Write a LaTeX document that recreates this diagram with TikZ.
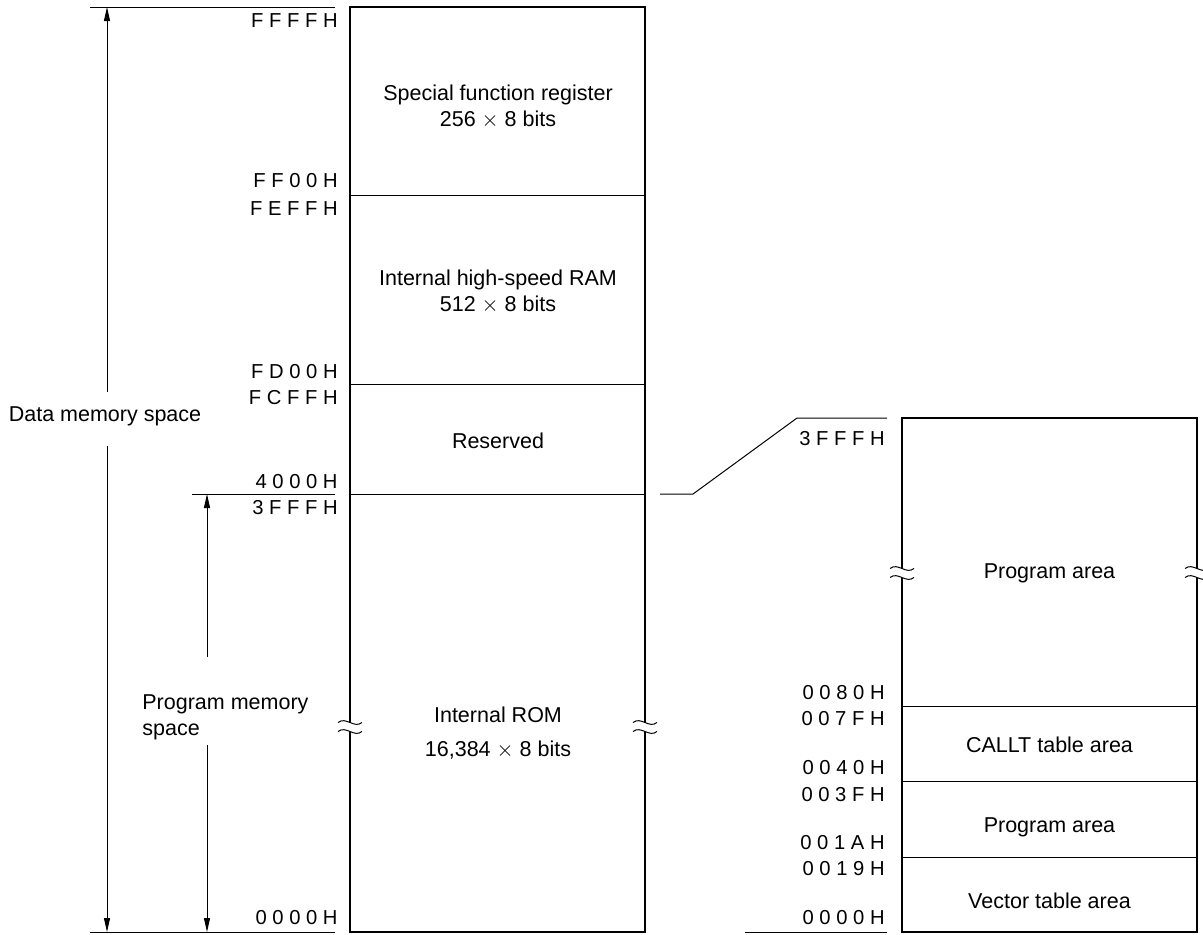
\documentclass[tikz,border=0pt]{standalone}
\usepackage{fontspec}
\setmainfont{Liberation Sans}
\usetikzlibrary{arrows.meta,positioning}

\begin{document}
\begin{tikzpicture}[x=0.5pt, y=-0.5pt,
    areatext/.style={font=\fontsize{10.75}{13}\selectfont, align=center, inner sep=0pt},
    addr/.style={font=\fontsize{10.1}{11}\selectfont, inner sep=0pt, anchor=east},
    memframe/.style={line width=1.1pt},
    divider/.style={line width=0.5pt},
    guide/.style={line width=0.5pt},
    arr/.style={line width=0.5pt, -{Triangle[length=7pt,width=3pt]}},
    wavebreak/.pic={
        \fill[white] (-3,-4.5) rectangle (3,4.5);
        \draw[line width=0.5pt] (-12,-4.5) .. controls (-4,-11) and (4,2) .. (12,-4.5);
        \draw[line width=0.5pt] (-12,4.5) .. controls (-4,-2) and (4,11) .. (12,4.5);
    },
]
    \useasboundingbox (0,0) rectangle (1203,934);

    % Whole memory map
    \draw[memframe] (350,7) rectangle (645,932);
    \draw[divider] (350,195) -- (645,195);
    \draw[divider] (350,384) -- (645,384);
    \draw[divider] (350,494) -- (645,494);

    \node[areatext] (sfr) at (498,107) {Special function register\\256 $\times$ 8 bits};
    \node[areatext] (ram) at (498,292) {Internal high-speed RAM\\512 $\times$ 8 bits};
    \node[areatext] (rsv) at (498,441) {Reserved};
    \node[areatext] (rom) at (498,733) {Internal ROM\\[4pt]16,384 $\times$ 8 bits};

    % Addresses, left
    \node[addr] (a_ffff) at (338,21) {F F F F H};
    \node[addr] (a_ff00) at (338,181) {F F 0 0 H};
    \node[addr] (a_feff) at (338,209) {F E F F H};
    \node[addr] (a_fd00) at (338,372) {F D 0 0 H};
    \node[addr] (a_fcff) at (338,398) {F C F F H};
    \node[addr] (a_4000) at (338,482) {4 0 0 0 H};
    \node[addr] (a_3fff) at (338,508) {3 F F F H};
    \node[addr] (a_0000) at (338,918) {0 0 0 0 H};

    % Space limits
    \draw[guide] (90,7) -- (335,7);
    \draw[guide] (90,932) -- (335,932);
    \draw[guide] (192,494) -- (335,494);

    % Data memory space
    \node[areatext] (dms) at (105,416) {Data memory space};
    \coordinate (d_top) at (107,7);
    \coordinate (d_bot) at (107,932);
    \coordinate (d_up) at (107,392);
    \coordinate (d_low) at (107,446);
    \draw[arr] (d_up) -- (d_top);
    \draw[arr] (d_low) -- (d_bot);

    % Program memory space
    \node[areatext, align=left, anchor=west] (pms) at (142,717) {Program memory\\space};
    \coordinate (p_top) at (207,494);
    \coordinate (p_bot) at (207,932);
    \coordinate (p_up) at (207,657);
    \coordinate (p_low) at (207,745);
    \draw[arr] (p_up) -- (p_top);
    \draw[arr] (p_low) -- (p_bot);

    % Internal ROM detail
    \draw[memframe] (902,418) rectangle (1197,932);
    \draw[divider] (902,706) -- (1197,706);
    \draw[divider] (902,781) -- (1197,781);
    \draw[divider] (902,857) -- (1197,857);

    \node[areatext] (prog_hi) at (1049.5,573) {Program area};
    \node[areatext] (callt) at (1049.5,745) {CALLT table area};
    \node[areatext] (prog_lo) at (1049.5,827) {Program area};
    \node[areatext] (vect) at (1049.5,901) {Vector table area};

    % Addresses, right
    \node[addr] (r_3fff) at (885,439) {3 F F F H};
    \node[addr] (r_0080) at (885,693) {0 0 8 0 H};
    \node[addr] (r_007f) at (885,719) {0 0 7 F H};
    \node[addr] (r_0040) at (885,768) {0 0 4 0 H};
    \node[addr] (r_003f) at (885,795) {0 0 3 F H};
    \node[addr] (r_001a) at (885,843) {0 0 1 A H};
    \node[addr] (r_0019) at (885,869) {0 0 1 9 H};
    \node[addr] (r_0000) at (885,918) {0 0 0 0 H};

    % Zoom connector
    \draw[guide] (660,494) -- (693,494) -- (797,418) -- (887,418);
    \draw[guide] (745,932) -- (887,932);

    % Breaks
    \pic at (350,727) {wavebreak};
    \pic at (645,727) {wavebreak};
    \pic at (902,573) {wavebreak};
    \pic at (1197,573) {wavebreak};
\end{tikzpicture}
\end{document}
